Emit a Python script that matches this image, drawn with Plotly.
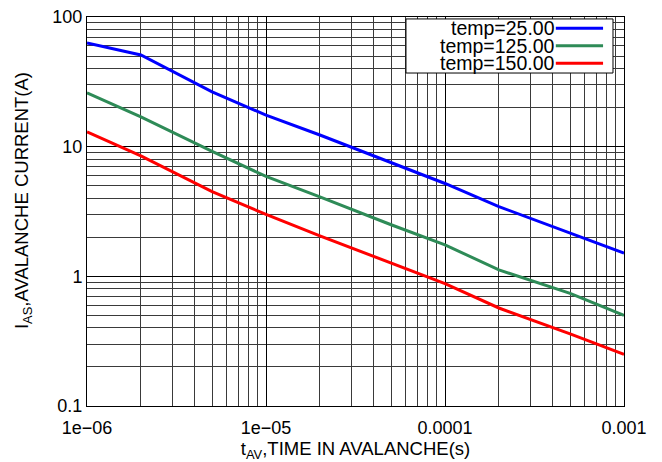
import plotly.graph_objects as go

# Data
t_av = [1e-6, 2e-6, 5e-6, 1e-5, 2e-5, 5e-5, 1e-4, 2e-4, 5e-4, 1e-3]
i_25 = [63, 51, 26.5, 17.5, 12.3, 7.5, 5.2, 3.45, 2.15, 1.51]
i_125 = [26, 17, 9.2, 5.9, 4.1, 2.5, 1.75, 1.12, 0.74, 0.50]
i_150 = [13, 8.5, 4.5, 3.0, 2.05, 1.26, 0.88, 0.57, 0.36, 0.25]

series_names = ["temp=25.00", "temp=125.00", "temp=150.00"]
series_colors = ["#0000FF", "#2E8B57", "#FF0000"]
series_values = [i_25, i_125, i_150]

x_tickvals = [1e-6, 1e-5, 1e-4, 1e-3]
x_ticktext = ["1e\u221206", "1e\u221205", "0.0001", "0.001"]
y_tickvals = [0.1, 1, 10, 100]
y_ticktext = ["0.1", "1", "10", "100"]

FONT = "Liberation Sans, Arial, Helvetica, sans-serif"

fig = go.Figure()
for name, color, vals in zip(series_names, series_colors, series_values):
    fig.add_trace(go.Scatter(x=t_av, y=vals, mode="lines", name=name,
                             line=dict(color=color, width=3), showlegend=False))

x_minor = [m * 10 ** e for e in range(-6, -3) for m in range(2, 10)]
y_minor = [m * 10 ** e for e in range(-1, 2) for m in range(2, 10)]

axis_common = dict(
    showline=True, linecolor="black", linewidth=1, mirror=True,
    showgrid=True, gridcolor="black", gridwidth=1,
    ticks="", zeroline=False, automargin=False,
    tickfont=dict(family=FONT, size=18, color="black"),
)

fig.update_xaxes(type="log", range=[-6, -3], tickmode="array",
                 tickvals=x_tickvals, ticktext=x_ticktext,
                 minor=dict(tickmode="array", tickvals=x_minor, showgrid=True,
                            gridcolor="#3a3a3a", gridwidth=1, ticks=""),
                 title=dict(text="t<sub>AV</sub>,TIME IN AVALANCHE(s)",
                            font=dict(family=FONT, size=18.5, color="black"), standoff=9),
                 ticklabelstandoff=5,
                 **axis_common)
fig.update_yaxes(type="log", range=[-1, 2], tickmode="array",
                 tickvals=y_tickvals, ticktext=y_ticktext,
                 minor=dict(tickmode="array", tickvals=y_minor, showgrid=True,
                            gridcolor="#3a3a3a", gridwidth=1, ticks=""),
                 **axis_common)

# Legend box drawn manually (sample line to the right of the label)
shapes = [dict(type="rect", xref="paper", yref="paper", x0=0.594, x1=0.9795,
               y0=0.856, y1=0.995, fillcolor="white",
               line=dict(color="black", width=1), layer="above")]
annotations = [dict(text="I<sub>AS</sub>,AVALANCHE CURRENT(A)", textangle=-90,
                    xref="paper", yref="paper", x=-0.119, y=0.527,
                    xanchor="center", yanchor="middle", showarrow=False,
                    font=dict(family=FONT, size=18.5, color="black"))]
row_y = [0.971, 0.926, 0.881]
for name, color, yy in zip(series_names, series_colors, row_y):
    shapes.append(dict(type="line", xref="paper", yref="paper", x0=0.873, x1=0.961,
                       y0=yy, y1=yy, line=dict(color=color, width=3), layer="above"))
    annotations.append(dict(text=name, xref="paper", yref="paper", x=0.875, y=yy,
                            xanchor="right", yanchor="middle", showarrow=False,
                            font=dict(family=FONT, size=19.5, color="black")))

fig.update_layout(
    width=662, height=462,
    margin=dict(l=87, r=38, t=17, b=56),
    paper_bgcolor="white", plot_bgcolor="white",
    shapes=shapes, annotations=annotations,
    showlegend=False,
)

fig.write_html("out.html")
